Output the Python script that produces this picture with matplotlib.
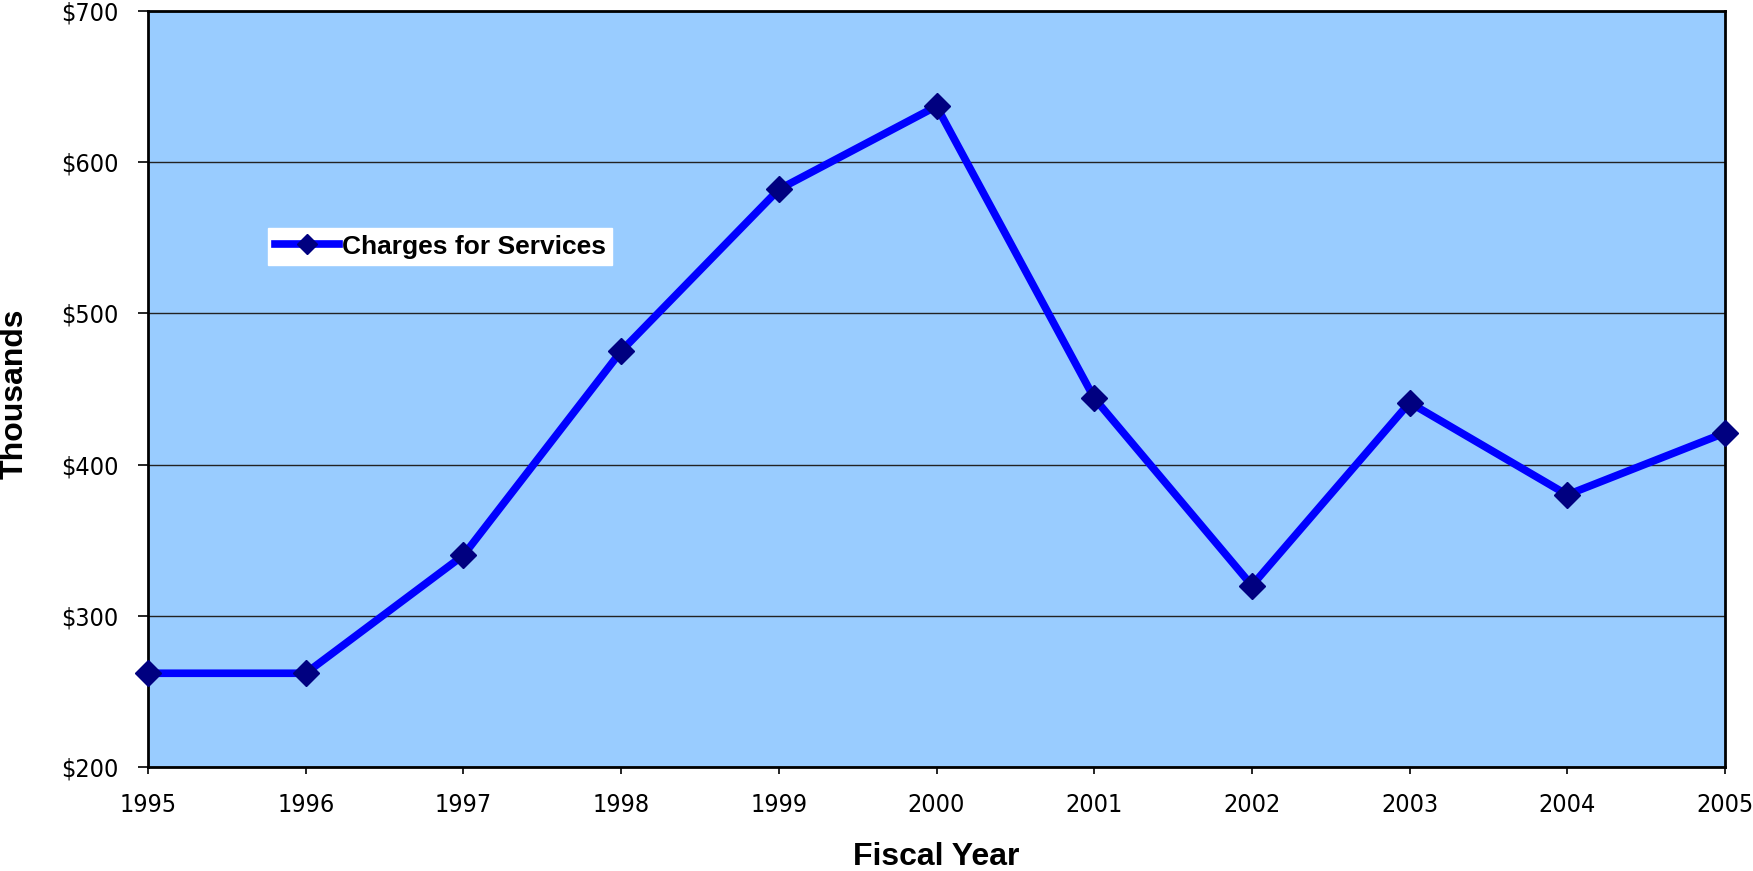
import matplotlib
matplotlib.use('Agg')
import matplotlib.pyplot as plt
from matplotlib.ticker import FuncFormatter

years = [1995, 1996, 1997, 1998, 1999, 2000, 2001, 2002, 2003, 2004, 2005]
charges = [262, 262, 340, 475, 582, 637, 444, 320, 441, 380, 421]

fig = plt.figure(figsize=(17.53, 8.71), dpi=100)
ax = fig.add_axes([148 / 1753, 104 / 871, 1577 / 1753, 756 / 871])
ax.set_facecolor('#99CCFF')

ax.plot(years, charges, color='#0000FF', linewidth=5.5, marker='D',
        markersize=13, markerfacecolor='#000080', markeredgecolor='#000080',
        label='Charges for Services', zorder=3, clip_on=False)

ax.set_xlim(1995, 2005)
ax.set_ylim(200, 700)
ax.set_xticks(years)
ax.set_yticks(range(200, 701, 100))
ax.yaxis.set_major_formatter(FuncFormatter(lambda v, p: '${:.0f}'.format(v)))
ax.grid(axis='y', color='#222222', linewidth=1)
ax.set_axisbelow(True)

for s in ax.spines.values():
    s.set_linewidth(2)
    s.set_color('black')
ax.tick_params(axis='x', direction='out', length=5, width=1.2, pad=14)
ax.tick_params(axis='y', direction='out', length=7, width=1.2, pad=14)
for lab in ax.get_xticklabels() + ax.get_yticklabels():
    lab.set_fontsize(18)
    lab.set_fontstretch('condensed')

fig.text(936.5 / 1753, 1 - 857 / 871, 'Fiscal Year', fontsize=23,
         fontweight='bold', family='Liberation Sans', ha='center', va='center')
fig.text(15 / 1753, 1 - 394 / 871, 'Thousands', fontsize=23, rotation=90,
         fontweight='bold', family='Liberation Sans', ha='center', va='center')

leg = ax.legend(loc='upper left', bbox_to_anchor=(268 / 1753, 1 - 228 / 871),
                bbox_transform=fig.transFigure, frameon=True, fancybox=False,
                framealpha=1, edgecolor='white', borderpad=0.25,
                borderaxespad=0, handlelength=2.45, handletextpad=0.1,
                markerscale=0.75,
                prop={'family': 'Liberation Sans', 'weight': 'bold', 'size': 19})

fig.savefig('out.png', dpi=100)
